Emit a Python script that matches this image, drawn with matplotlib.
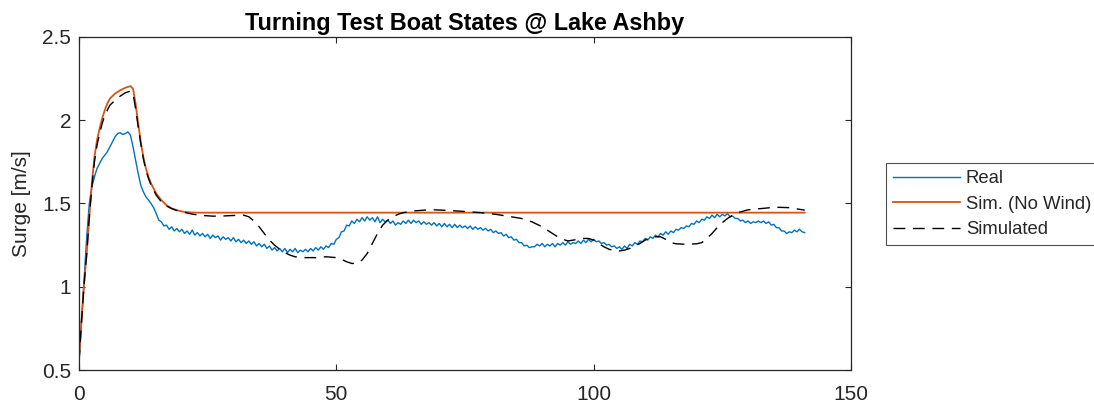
import numpy as np
import matplotlib
matplotlib.use("Agg")
import matplotlib.pyplot as plt

plt.rcParams['font.family'] = ['Liberation Sans', 'DejaVu Sans']

# ---------------- data ----------------
real_dt = 0.5
real_v = [
    0.55, 0.80, 1.05, 1.30, 1.50, 1.60, 1.66, 1.71, 1.74, 1.77,
    1.79, 1.81, 1.84, 1.87, 1.90, 1.92, 1.925, 1.915, 1.92, 1.93,
    1.91, 1.84, 1.76, 1.68, 1.61, 1.57, 1.54, 1.52, 1.50, 1.475,
    1.44, 1.40, 1.39, 1.365, 1.37, 1.345, 1.36, 1.335, 1.35, 1.33,
    1.345, 1.32, 1.335, 1.315, 1.34, 1.31, 1.325, 1.305, 1.32, 1.30,
    1.315, 1.29, 1.31, 1.295, 1.305, 1.28, 1.30, 1.285, 1.295, 1.275,
    1.295, 1.27, 1.285, 1.265, 1.28, 1.26, 1.275, 1.255, 1.27, 1.245,
    1.26, 1.24, 1.255, 1.23, 1.245, 1.22, 1.235, 1.215, 1.23, 1.21,
    1.23, 1.205, 1.225, 1.21, 1.23, 1.205, 1.22, 1.21, 1.225, 1.21,
    1.23, 1.215, 1.235, 1.22, 1.24, 1.225, 1.245, 1.235, 1.26, 1.255,
    1.285, 1.295, 1.33, 1.335, 1.37, 1.365, 1.395, 1.38, 1.405, 1.39,
    1.415, 1.395, 1.42, 1.40, 1.415, 1.39, 1.42, 1.385, 1.405, 1.39,
    1.40, 1.38, 1.395, 1.37, 1.385, 1.375, 1.395, 1.38, 1.40, 1.38,
    1.40, 1.385, 1.395, 1.375, 1.39, 1.375, 1.385, 1.37, 1.385, 1.365,
    1.38, 1.36, 1.38, 1.36, 1.375, 1.355, 1.375, 1.355, 1.37, 1.355,
    1.365, 1.35, 1.365, 1.345, 1.36, 1.345, 1.355, 1.34, 1.35, 1.335,
    1.345, 1.325, 1.335, 1.32, 1.325, 1.305, 1.315, 1.295, 1.30, 1.28,
    1.285, 1.265, 1.265, 1.245, 1.25, 1.235, 1.24, 1.24, 1.255, 1.245,
    1.26, 1.24, 1.255, 1.245, 1.26, 1.24, 1.26, 1.25, 1.265, 1.25,
    1.27, 1.255, 1.265, 1.26, 1.275, 1.26, 1.28, 1.265, 1.285, 1.27,
    1.285, 1.27, 1.275, 1.26, 1.265, 1.25, 1.255, 1.24, 1.245, 1.23,
    1.24, 1.225, 1.245, 1.23, 1.255, 1.245, 1.265, 1.255, 1.275, 1.27,
    1.29, 1.28, 1.30, 1.29, 1.31, 1.30, 1.32, 1.31, 1.33, 1.315,
    1.335, 1.325, 1.345, 1.34, 1.355, 1.35, 1.365, 1.36, 1.38, 1.375,
    1.395, 1.385, 1.405, 1.40, 1.42, 1.41, 1.43, 1.415, 1.435, 1.42,
    1.435, 1.425, 1.44, 1.42, 1.425, 1.41, 1.41, 1.395, 1.40, 1.385,
    1.395, 1.38, 1.39, 1.385, 1.395, 1.385, 1.395, 1.38, 1.39, 1.37,
    1.375, 1.355, 1.355, 1.335, 1.335, 1.32, 1.33, 1.325, 1.34, 1.33,
    1.345, 1.33, 1.325,
]
real_t = np.arange(len(real_v)) * real_dt

nowind_t = [0, 0.5, 1, 1.5, 2, 2.5, 3, 3.5, 4, 4.5, 5, 5.5, 6, 7, 8, 9, 10,
            10.5, 11, 11.5, 12, 12.5, 13, 13.5, 14, 15, 16, 17, 18, 19, 20,
            21, 22, 23, 141]
nowind_v = [0.56, 0.80, 1.02, 1.20, 1.42, 1.62, 1.78, 1.88, 1.95, 2.01, 2.06,
            2.10, 2.13, 2.16, 2.18, 2.195, 2.205, 2.19, 2.10, 1.98, 1.87,
            1.78, 1.71, 1.66, 1.62, 1.56, 1.52, 1.49, 1.47, 1.46, 1.452,
            1.448, 1.446, 1.445, 1.445]

sim_t = [0, 0.5, 1, 1.5, 2, 2.5, 3, 3.5, 4, 4.5, 5, 5.5, 6, 7, 8, 9, 10, 10.5,
         11, 11.5, 12, 12.5, 13, 13.5, 14, 15, 16, 17, 18, 19, 20, 22, 24, 26,
         28, 30, 32, 33, 34, 35, 36, 37, 38, 39, 40, 41, 42, 43, 44, 46, 48,
         50, 51, 52, 53, 54, 55, 56, 57, 58, 59, 60, 61, 62, 63, 65, 67, 69,
         72, 75, 78, 81, 84, 86, 88, 89, 90, 91, 92, 93, 94, 95, 96, 97, 98,
         99, 100, 101, 102, 103, 104, 105, 106, 107, 108, 109, 110, 111, 112,
         113, 114, 115, 116, 118, 120, 121, 122, 123, 124, 125, 126, 127, 128,
         130, 132, 134, 136, 138, 140, 141]
sim_v = [0.55, 0.80, 1.02, 1.20, 1.42, 1.60, 1.75, 1.85, 1.92, 1.98, 2.03,
         2.06, 2.09, 2.12, 2.145, 2.165, 2.175, 2.16, 2.07, 1.96, 1.86, 1.77,
         1.70, 1.65, 1.61, 1.55, 1.51, 1.485, 1.47, 1.458, 1.45, 1.436, 1.428,
         1.424, 1.425, 1.428, 1.43, 1.42, 1.395, 1.36, 1.32, 1.28, 1.25,
         1.225, 1.205, 1.19, 1.18, 1.176, 1.175, 1.175, 1.18, 1.175, 1.165,
         1.15, 1.14, 1.14, 1.16, 1.20, 1.26, 1.32, 1.37, 1.40, 1.42, 1.435,
         1.445, 1.455, 1.46, 1.462, 1.458, 1.452, 1.445, 1.435, 1.42, 1.41,
         1.39, 1.375, 1.36, 1.34, 1.32, 1.30, 1.285, 1.275, 1.28, 1.285,
         1.29, 1.29, 1.28, 1.26, 1.24, 1.225, 1.218, 1.215, 1.22, 1.23,
         1.245, 1.26, 1.28, 1.295, 1.30, 1.30, 1.285, 1.265, 1.258, 1.255,
         1.258, 1.265, 1.29, 1.32, 1.355, 1.385, 1.41, 1.43, 1.445, 1.462,
         1.468, 1.474, 1.477, 1.475, 1.465, 1.46]

series_labels = ["Real", "Sim. (No Wind)", "Simulated"]
title_text = "Turning Test Boat States @ Lake Ashby"
ylabel_text = "Surge [m/s]"
xticks = [0, 50, 100, 150]
yticks = [0.5, 1, 1.5, 2, 2.5]
ytick_labels = ["0.5", "1", "1.5", "2", "2.5"]

# ---------------- figure ----------------
W, H = 1094, 407
fig = plt.figure(figsize=(W / 100, H / 100), dpi=100)
ax = fig.add_axes([79 / W, 37 / H, (851 - 79) / W, (370 - 37) / H])

dark = "#262626"
ax.plot(real_t, real_v, color="#0072BD", lw=1.0, label=series_labels[0])
ax.plot(nowind_t, nowind_v, color="#D95319", lw=1.3, label=series_labels[1])
ax.plot(sim_t, sim_v, color="black", lw=1.0, dashes=(8.5, 5.5),
        label=series_labels[2])

ax.set_xlim(0, 150)
ax.set_ylim(0.5, 2.5)
ax.set_xticks(xticks)
ax.set_xticklabels([str(x) for x in xticks])
ax.set_yticks(yticks)
ax.set_yticklabels(ytick_labels)

for s in ax.spines.values():
    s.set_color(dark)
    s.set_linewidth(0.9)
ax.tick_params(direction="in", length=4.3, width=0.8, color=dark,
               labelcolor=dark, labelsize=15, top=True, right=True)
ax.tick_params(axis="x", pad=11)
ax.tick_params(axis="y", pad=5.5)

ax.set_title(title_text, fontsize=16.8, fontweight="bold", pad=5)
ax.set_ylabel(ylabel_text, fontsize=15, color=dark, labelpad=8)

leg = ax.legend(loc="upper left", bbox_to_anchor=(886 / W, (H - 163) / H),
                bbox_transform=fig.transFigure, borderaxespad=0,
                fontsize=13.3, frameon=True, fancybox=False,
                edgecolor=dark, handlelength=3.6, handletextpad=0.32,
                borderpad=0.4, labelspacing=0.45)
leg.get_frame().set_linewidth(0.8)
for t in leg.get_texts():
    t.set_color(dark)

fig.savefig("out.png", dpi=100)
